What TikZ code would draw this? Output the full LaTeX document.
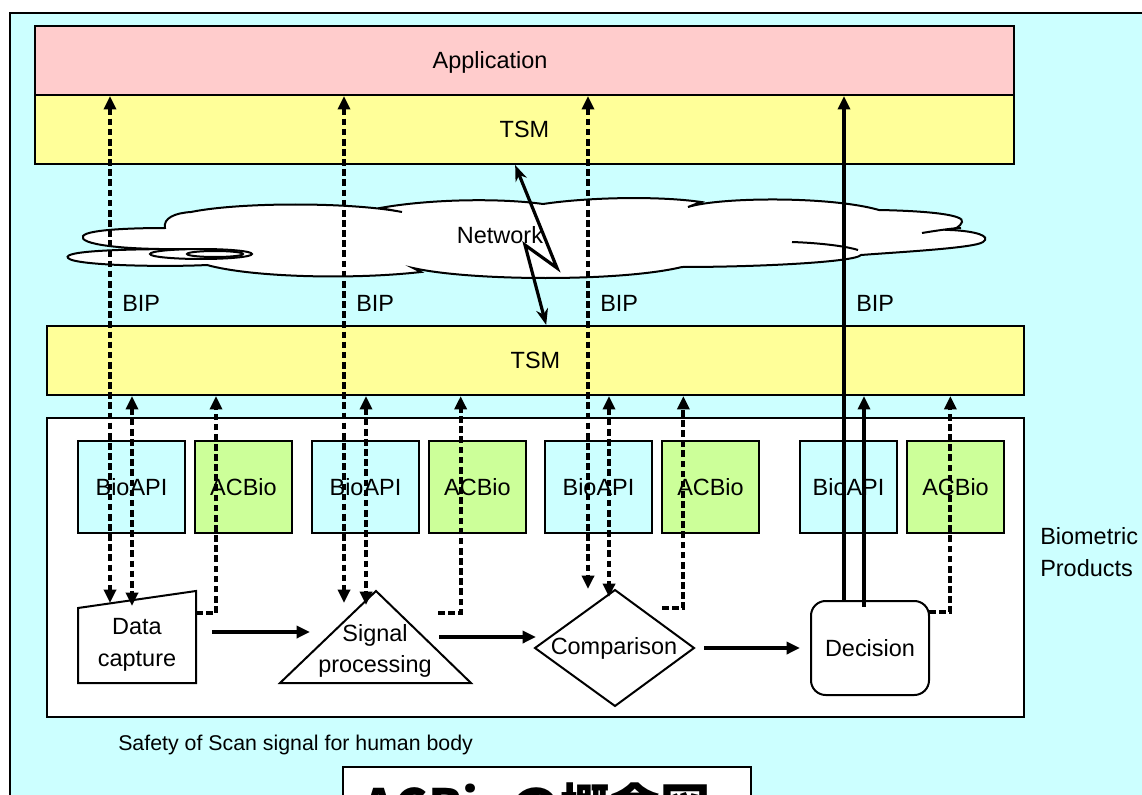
\documentclass[tikz,border=0pt]{standalone}
\usepackage{fontspec}
\setmainfont{Liberation Sans}
\newfontfamily\jpfont{Noto Sans CJK JP}
\usetikzlibrary{arrows.meta,fit}

\definecolor{bgcyan}{HTML}{CCFFFF}
\definecolor{apppink}{HTML}{FFCCCC}
\definecolor{tsmyellow}{HTML}{FFFF99}
\definecolor{acgreen}{HTML}{CCFF99}

\begin{document}
\begin{tikzpicture}[
				x=0.75pt, y=-0.75pt,
				>={Triangle[length=10pt,width=9pt]},
				every node/.style={
					font=\fontsize{17.6}{23.5}\selectfont,
					inner sep=0pt
				},
				layer/.style={draw, line width=1.6pt},
				part/.style={draw, line width=1.5pt},
				bip/.style={line width=3pt, dash pattern=on 5pt off 2.6pt},
				flow/.style={line width=3pt, ->},
				link/.style={line width=2.4pt, {Stealth[length=12pt,width=9pt]}-{Stealth[length=12pt,width=9pt]}}
				]
				\useasboundingbox (0,0) rectangle (1142,795);
				\clip (0,0) rectangle (1142,795);
				
				% Frame
				\draw[line width=2.2pt, fill=bgcyan] (10,13) rectangle (1170,830);
				
				% Application and TSM
				\node[layer, fill=apppink, fit={(35,26) (1014,95)}] (app) {};
				\node (applbl) at (490,62) {Application};
				\node[layer, fill=tsmyellow, fit={(35,95) (1014,164)}, label=center:TSM] (tsmtop) {};
				
				% Network cloud
				\draw[line width=1.5pt, fill=white]
					(191,212) .. controls (240,202) and (350,202) .. (402,212)
					-- (380,208) .. controls (430,199) and (500,198) .. (543,204)
					.. controls (590,197) and (660,196) .. (701,202)
					-- (688,207) .. controls (720,197) and (830,196) .. (879,210)
					.. controls (930,211) and (965,215) .. (962,222)
					.. controls (960,227) and (955,229) .. (950,230)
					.. controls (975,231) and (992,236) .. (983,242)
					.. controls (975,248) and (900,252) .. (861,255)
					.. controls (855,262) and (760,267) .. (682,267)
					.. controls (620,282) and (470,281) .. (413,268)
					-- (421,272) .. controls (350,280) and (250,277) .. (207,265)
					.. controls (170,267) and (75,266) .. (68,258)
					.. controls (62,251) and (120,249) .. (187,249)
					.. controls (120,250) and (78,244) .. (83,236)
					.. controls (88,229) and (140,228) .. (165,228)
					.. controls (163,218) and (175,213) .. (191,212) -- cycle;
				\draw[line width=1.5pt] (922,233) .. controls (940,230) and (955,228) .. (961,228);
				\draw[line width=1.5pt] (792,242) .. controls (820,243) and (845,246) .. (858,250);
				\draw[line width=1.5pt] (201,254) ellipse [x radius=51, y radius=5];
				\draw[line width=1.5pt] (215,254) ellipse [x radius=28, y radius=3];
				\node (net) at (500,235) {Network};
				
				% BIP labels
				\foreach \x [count=\i] in {122,356,600,856}
				\node[anchor=west] (bip\i) at (\x,303) {BIP};
				
				% Lower TSM and biometric products
				\node[layer, fill=tsmyellow, fit={(47,326) (1024,395)}, label=center:TSM] (tsmlow) {};
				\node[layer, fill=white, fit={(47,418) (1024,717)}] (bioprod) {};
				\foreach \i/\x/\w in {1/78/107, 2/312/107, 3/545/107, 4/800/97} {
					\node[layer, fill=bgcyan, fit={(\x,441) (\x+\w,533)}, label=center:BioAPI] (bioapi\i) {};
					\node[layer, fill=acgreen, fit={(\x+\w+10,441) (\x+\w+107,533)}, label=center:ACBio] (acbio\i) {};
				}
				
				% Processing steps
				\draw[part] (78,683) -- (78,608) -- (196,591) -- (196,683) -- cycle;
				\node[align=center] (capture) at (137,645) {Data\\capture};
				\draw[part] (280,683) -- (376,591) -- (471,683) -- cycle;
				\node[align=center] (sigproc) at (375,651) {Signal\\processing};
				\draw[part] (535,648) -- (615,590) -- (694,648) -- (615,706) -- cycle;
				\node (compare) at (614,648) {Comparison};
				\node[part, rounded corners=11pt, fit={(811,601) (929,695)}, label=center:Decision] (decide) {};
				
				% Ports
				\coordinate (capout) at (212,632);
				\coordinate (sigin) at (310,632);
				\coordinate (sigout) at (439,637);
				\coordinate (cmpin) at (536,637);
				\coordinate (cmpout) at (704,648);
				\foreach \n/\x/\y in {a1/110/603, a2/344/603, a3/588/589,
					b1/132/606, b2/366/605, b3/609/597,
					e1/196/613, e2/438/613, e3/662/608, e4/929/612}
				\coordinate (\n) at (\x,\y);
				
				% Flow
				\draw[flow] (capout) -- (sigin);
				\draw[flow] (sigout) -- (cmpin);
				\draw[flow] (cmpout) -- ([xshift=-7.5pt]decide.west);
				
				% BIP connections
				\foreach \p in {a1,a2,a3}
				\draw[bip, <->] (app.south -| \p) -- (\p);
				\foreach \p in {b1,b2,b3}
				\draw[bip, <->] (tsmlow.south -| \p) -- (\p);
				\foreach \p/\d in {e1/15pt, e2/17pt, e3/16pt, e4/16pt}
				\draw[bip, ->] (\p) -| ([xshift=\d]tsmlow.south -| \p);
				\draw[flow] ([xshift=-19.5pt]decide.north) -- ([xshift=-19.5pt]decide.north |- app.south);
				\draw[flow] ([xshift=-4.5pt,yshift=-5pt]decide.north) -- ([xshift=-4.5pt]decide.north |- tsmlow.south);
				
				% Network link
				\draw[link] ([xshift=-7pt]tsmtop.south) -- (557,268) -- (525,245) -- ([xshift=8pt]tsmlow.north);
				
				% Side texts
				\node[anchor=west, align=left] (bplbl) at (1040,552) {Biometric\\Products};
				\node[anchor=west, font=\fontsize{16}{19}\selectfont] (safety) at (118,745) {Safety of Scan signal for human body};
				
				% Title box
				\node[layer, fill=white, fit={(343,767) (751,840)}] (title) {};
				\node[anchor=base west, font=\jpfont\bfseries\fontsize{37.5}{40}\selectfont] (titletext) at (362,825) {ACBioの概念図};
			\end{tikzpicture}
\end{document}
